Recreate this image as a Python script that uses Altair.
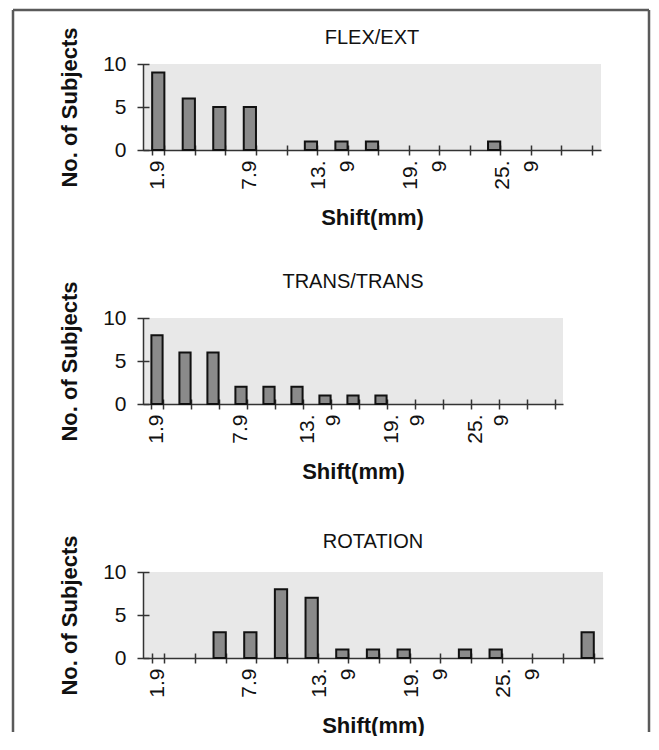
import altair as alt
import pandas as pd

shift_cats = ["1.9", "3.9", "5.9", "7.9", "9.9", "11.9", "13.9", "15.9",
              "17.9", "19.9", "21.9", "23.9", "25.9", "27.9", "29.9"]
label_cats = ["1.9", "7.9", "13.9", "19.9", "25.9"]
flex_ext = [9, 6, 5, 5, 0, 1, 1, 1, 0, 0, 0, 1, 0, 0, 0]
trans_trans = [8, 6, 6, 2, 2, 2, 1, 1, 1, 0, 0, 0, 0, 0, 0]
rotation = [0, 0, 3, 3, 8, 7, 1, 1, 1, 0, 1, 1, 0, 0, 3]
y_ticks = [0, 5, 10]

FONT = "Liberation Sans, Arial, Helvetica, sans-serif"
NARROW = "Liberation Sans Narrow, Arial Narrow, Liberation Sans, Arial, sans-serif"
INK = "#111111"
AXIS = "#333333"
H = 86


def panel(title, values, width, title_y, line_h, wrap_off, frame=False):
    df = pd.DataFrame({"shift": shift_cats, "n": values})
    base = alt.Chart(df)
    xscale = alt.Scale(domain=shift_cats, paddingInner=0.6, paddingOuter=0.3)
    yscale = alt.Scale(domain=[0, 10], nice=False)

    bars = base.transform_filter("datum.n > 0").mark_bar(
        fill="#8a8a8a", stroke=INK, strokeWidth=2
    ).encode(
        x=alt.X("shift:N", scale=xscale, sort=shift_cats, axis=alt.Axis(
            orient="bottom", values=label_cats,
            labelExpr="length(datum.label) > 3 ? [substring(datum.label, 0, 3), substring(datum.label, 3)] : datum.label",
            labelOffset={"condition": {"test": "length(datum.value) > 3", "value": wrap_off}, "value": 0},
            labelAngle=270, labelFont=FONT, labelFontSize=21, labelColor=INK,
            labelPadding=10, labelLineHeight=line_h, ticks=False, tickSize=0,
            domainColor=AXIS, domainWidth=1.5, grid=False,
            title="Shift(mm)", titleFont=FONT, titleFontSize=22,
            titleFontWeight="bold", titleColor=INK, titleY=67,
            titleBaseline="middle")),
        y=alt.Y("n:Q", scale=yscale, axis=alt.Axis(
            orient="left", values=y_ticks, ticks=False, tickSize=0, labelPadding=17,
            labelFont=FONT, labelFontSize=21, labelColor=INK,
            domainColor=AXIS, domainWidth=1.5, grid=False,
            title="No. of Subjects", titleFont=FONT, titleFontSize=22,
            titleFontWeight="bold", titleColor=INK, titleAngle=270,
            titleX=-74, titleY=H / 2, titleBaseline="middle")),
    )

    ticks = base.mark_bar(opacity=0).encode(
        x=alt.X("shift:N", scale=xscale, sort=shift_cats, axis=alt.Axis(
            orient="bottom", offset=-5, tickSize=10, tickBand="extent",
            tickColor=AXIS, tickWidth=1.5, domain=False, labels=False,
            grid=False, title=None)),
        y=alt.Y("n:Q", scale=yscale, axis=alt.Axis(
            orient="left", offset=-6, tickSize=12, values=y_ticks,
            tickColor=AXIS, tickWidth=1.5, domain=False, labels=False,
            grid=False, title=None)),
    )

    one = alt.Chart(pd.DataFrame({"k": [0]}))
    head = one.mark_text(
        font=NARROW, fontSize=20, color=INK, align="center", baseline="middle"
    ).encode(x=alt.value(width / 2), y=alt.value(title_y), text=alt.value(title))

    layers = [ticks, bars, head]
    if frame:
        fr = dict(color="#5a5a5a", strokeWidth=2.5)
        layers += [
            one.mark_rule(**fr).encode(x=alt.value(-130), y=alt.value(-54), y2=alt.value(668)),
            one.mark_rule(**fr).encode(x=alt.value(506), y=alt.value(-54), y2=alt.value(668)),
            one.mark_rule(**fr).encode(x=alt.value(-130), x2=alt.value(506), y=alt.value(-54)),
        ]
    return alt.layer(*layers).resolve_axis(x="independent", y="independent").properties(
        width=width, height=H)


p1 = panel("FLEX/EXT", flex_ext, 458, -26, 29, -22, frame=True)
p2 = panel("TRANS/TRANS", trans_trans, 420, -36, 26, -17)
p3 = panel("ROTATION", rotation, 460, -30, 29, -22)

chart = alt.vconcat(p1, p2, p3, spacing=168, bounds="flush").properties(
    padding={"left": 3, "top": 0, "right": 0, "bottom": 0},
    background="white",
).configure_view(fill="#e8e8e8", stroke=None)

chart.save("out.html", embed_options={"renderer": "svg", "actions": False})
